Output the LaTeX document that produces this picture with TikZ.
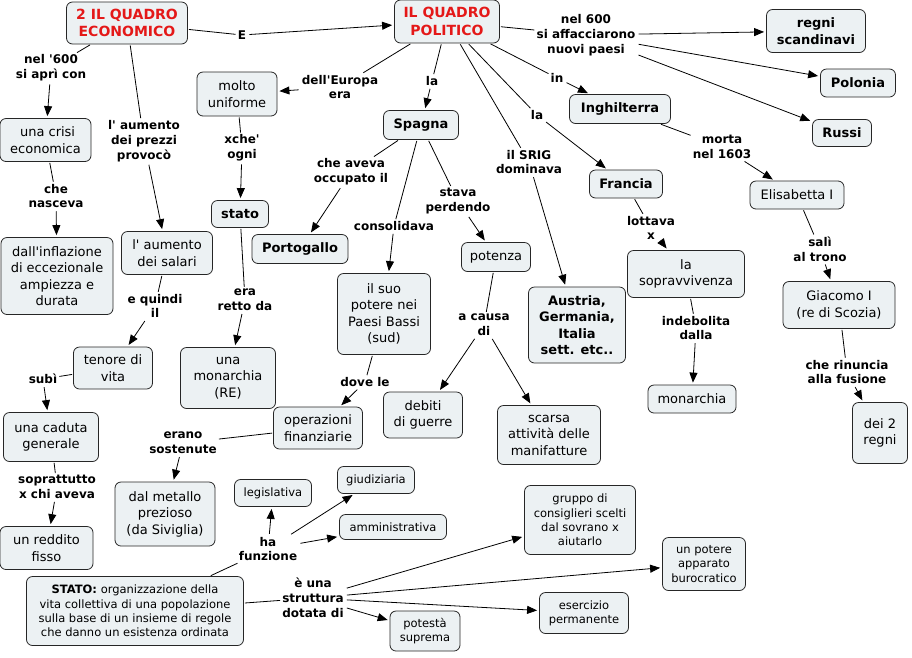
\documentclass[tikz,border=0pt]{standalone}
\usepackage{fontspec}
\setmainfont{DejaVu Sans}[Ligatures=TeXOff]
\usetikzlibrary{arrows.meta}

\definecolor{boxfill}{RGB}{236,241,243}
\definecolor{titlered}{RGB}{228,24,24}

\tikzset{
    concept/.style={draw=black!85, fill=boxfill, rounded corners=6pt, align=center,
        inner sep=2pt, line width=0.8pt, font=\fontsize{13}{16.5}\selectfont},
    boldconcept/.style={concept, font=\fontsize{13}{16.5}\selectfont\bfseries},
    titleconcept/.style={concept, text=titlered, font=\fontsize{14}{17.5}\selectfont\bfseries},
    smallconcept/.style={concept, font=\fontsize{11.5}{14.3}\selectfont},
    sz/.style 2 args={minimum width=#1pt, minimum height=#2pt},
    link/.style={align=center, inner sep=2pt, font=\fontsize{12}{14.8}\selectfont\bfseries},
    conn/.style={line width=0.8pt, shorten <=1pt},
    arr/.style={conn, -{Triangle[length=10pt,width=8pt]}, shorten >=2pt},
}

\begin{document}
\begin{tikzpicture}[x=1pt, y=-1pt]
    \useasboundingbox (0,0) rectangle (912,657);

    % The two main topics.
    \node[titleconcept, sz={121}{42}] (econ) at (127,23) {2 IL QUADRO\\ECONOMICO};
    \node[titleconcept, sz={105}{43}] (pol)  at (447,21.5) {IL QUADRO\\POLITICO};

    % Concepts on the political side.
    \node[boldconcept, sz={99}{43}]  (scand)   at (816,31)  {regni\\scandinavi};
    \node[boldconcept, sz={75}{28}]  (polonia) at (858,83)  {Polonia};
    \node[boldconcept, sz={59}{27}]  (russi)   at (842,133) {Russi};
    \node[boldconcept, sz={101}{29}] (inghil)  at (620,109) {Inghilterra};
    \node[concept,     sz={94}{28}]  (elisab)  at (797,195) {Elisabetta I};
    \node[boldconcept, sz={73}{28}]  (francia) at (626,184) {Francia};
    \node[concept,     sz={80}{44}]  (unif)    at (237,94)  {molto\\uniforme};
    \node[boldconcept, sz={75}{29}]  (spagna)  at (421,125) {Spagna};
    \node[boldconcept, sz={57}{27}]  (stato)   at (240,214) {stato};
    \node[boldconcept, sz={96}{29}]  (portog)  at (300,249) {Portogallo};
    \node[concept,     sz={69}{29}]  (potenza) at (496,257) {potenza};
    \node[boldconcept, sz={97}{76}]  (austria) at (577,325) {Austria,\\Germania,\\Italia\\sett. etc..};
    \node[concept,     sz={117}{47}] (sopr)    at (686,274) {la\\sopravvivenza};
    \node[concept,     sz={112}{47}] (giacomo) at (839,305) {Giacomo I\\(re di Scozia)};
    \node[concept,     sz={93}{81}]  (potere)  at (384,314) {il suo\\potere nei\\Paesi Bassi\\(sud)};
    \node[concept,     sz={95}{61}]  (monre)   at (228,378) {una\\monarchia\\(RE)};
    \node[concept,     sz={89}{42}]  (operaz)  at (318,428) {operazioni\\finanziarie};
    \node[concept,     sz={79}{46}]  (debiti)  at (423,415) {debiti\\di guerre};
    \node[concept,     sz={103}{59}] (scarsa)  at (549,435) {scarsa\\attività delle\\manifatture};
    \node[concept,     sz={88}{28}]  (monarch) at (692,399) {monarchia};
    \node[concept,     sz={55}{61}]  (regni)   at (880,433) {dei 2\\regni};
    \node[concept,     sz={100}{64}] (metallo) at (165,514) {dal metallo\\prezioso\\(da Siviglia)};

    % Concepts on the economic side.
    \node[concept, sz={91}{43}]  (crisi)   at (45.5,140) {\ una crisi\\economica};
    \node[concept, sz={112}{77}] (inflaz)  at (57,276)   {dall'inflazione\\di eccezionale\\ampiezza e\\durata};
    \node[concept, sz={91}{43}]  (salari)  at (167,253)  {l' aumento\\dei salari};
    \node[concept, sz={79}{42}]  (tenore)  at (113,368)  {tenore di\\vita};
    \node[concept, sz={95}{49}]  (caduta)  at (51,437)   {una caduta\\generale};
    \node[concept, sz={93}{43}]  (reddito) at (46.5,548) {un reddito\\fisso};

    % The definition of the state and what it has.
    \node[smallconcept, sz={217}{69}] (statodef) at (135,611)
        {\textbf{STATO:} organizzazione della\\vita collettiva di una popolazione\\sulla base di un insieme di regole\\che danno un esistenza ordinata};
    \node[smallconcept, sz={77}{27}]  (legisl)   at (273,493) {legislativa};
    \node[smallconcept, sz={77}{27}]  (giudiz)   at (376,480) {giudiziaria};
    \node[smallconcept, sz={107}{25}] (ammin)    at (393,527) {amministrativa};
    \node[smallconcept, sz={111}{69}] (gruppo)   at (580,520) {gruppo di\\consiglieri scelti\\dal sovrano x\\aiutarlo};
    \node[smallconcept, sz={83}{53}]  (appar)    at (704,564) {un potere\\apparato\\burocratico};
    \node[smallconcept, sz={89}{41}]  (eserc)    at (584,613) {esercizio\\permanente};
    \node[smallconcept, sz={70}{40}]  (potesta)  at (425,631) {potestà\\suprema};

    % Linking phrases.
    \node[link] (lE)       at (242,35)  {E};
    \node[link] (lnel)     at (51,68)   {nel '600\\si aprì con};
    \node[link] (lprezzi)  at (144,141) {l' aumento\\dei prezzi\\provocò};
    \node[link] (leuropa)  at (340,87)  {dell'Europa\\era};
    \node[link] (lla)      at (432,81)  {la};
    \node[link] (lnuovi)   at (586,35)  {nel 600\\si affacciarono\\nuovi paesi};
    \node[link] (lin)      at (557,78)  {in};
    \node[link] (llaf)     at (537,115) {la};
    \node[link] (lsrig)    at (529,162) {il SRIG\\dominava};
    \node[link] (lmorta)   at (722,147) {morta\\nel 1603};
    \node[link] (lxche)    at (242,148) {xche'\\ogni};
    \node[link] (lnasc)    at (56,196)  {che\\nasceva};
    \node[link] (loccup)   at (351,172) {che aveva\\occupato il};
    \node[link] (lcons)    at (394,226) {consolidava};
    \node[link] (lperd)    at (458,201) {stava\\perdendo};
    \node[link] (llott)    at (651,228) {lottava\\x};
    \node[link] (lsali)    at (820,249) {salì\\al trono};
    \node[link] (lretto)   at (245,300) {era\\retto da};
    \node[link] (lquindi)  at (155,306) {e quindi\\il};
    \node[link] (lcausa)   at (484,325) {a causa\\di};
    \node[link] (lindeb)   at (696,328) {indebolita\\dalla};
    \node[link] (lrinun)   at (847,372) {che rinuncia\\alla fusione};
    \node[link] (lsubi)    at (43,379)  {subì};
    \node[link] (ldove)    at (365,382) {dove le};
    \node[link] (lsost)    at (183,443) {erano\\sostenute};
    \node[link] (lsoprat)  at (57,487)  {soprattutto\\x chi aveva};
    \node[link] (lfunz)    at (268,549) {ha\\funzione};
    \node[link] (lstrutt)  at (313,598) {è una\\struttura\\dotata di};

    % Connections from the main topics.
    \draw[conn] (econ) -- (lE);      \draw[arr] (lE) -- (pol);
    \draw[conn] (econ) -- (lnel);    \draw[arr] (lnel) -- (crisi);
    \draw[conn] (econ) -- (lprezzi); \draw[arr] (lprezzi) -- (salari);
    \draw[conn] (pol) -- (leuropa);  \draw[arr] (leuropa) -- (unif);
    \draw[conn] (pol) -- (lla);      \draw[arr] (lla) -- (spagna);
    \draw[conn] (pol) -- (lnuovi);
    \draw[arr] (lnuovi) -- (scand);
    \draw[arr] (lnuovi) -- (polonia);
    \draw[arr] (lnuovi) -- (russi);
    \draw[conn] (pol) -- (lin);      \draw[arr] (lin) -- (inghil);
    \draw[conn] (pol) -- (llaf);     \draw[arr] (llaf) -- (francia);
    \draw[conn] (pol) -- (lsrig);    \draw[arr] (lsrig) -- (austria);

    % The countries.
    \draw[conn] (inghil) -- (lmorta);  \draw[arr] (lmorta) -- (elisab);
    \draw[conn] (elisab) -- (lsali);   \draw[arr] (lsali) -- (giacomo);
    \draw[conn] (giacomo) -- (lrinun); \draw[arr] (lrinun) -- (regni);
    \draw[conn] (francia) -- (llott);  \draw[arr] (llott) -- (sopr);
    \draw[conn] (sopr) -- (lindeb);    \draw[arr] (lindeb) -- (monarch);
    \draw[conn] (spagna) -- (loccup);  \draw[arr] (loccup) -- (portog);
    \draw[conn] (spagna) -- (lcons);   \draw[arr] (lcons) -- (potere);
    \draw[conn] (spagna) -- (lperd);   \draw[arr] (lperd) -- (potenza);
    \draw[conn] (potenza) -- (lcausa);
    \draw[arr] (lcausa) -- (debiti);
    \draw[arr] (lcausa) -- (scarsa);
    \draw[conn] (potere) -- (ldove);   \draw[arr] (ldove) -- (operaz);
    \draw[conn] (operaz) -- (lsost);   \draw[arr] (lsost) -- (metallo);
    \draw[conn] (unif) -- (lxche);     \draw[arr] (lxche) -- (stato);
    \draw[conn] (stato) -- (lretto);   \draw[arr] (lretto) -- (monre);

    % The economic chain.
    \draw[conn] (crisi) -- (lnasc);    \draw[arr] (lnasc) -- (inflaz);
    \draw[conn] (salari) -- (lquindi); \draw[arr] (lquindi) -- (tenore);
    \draw[conn] (tenore) -- (lsubi);   \draw[arr] (lsubi) -- (caduta);
    \draw[conn] (caduta) -- (lsoprat); \draw[arr] (lsoprat) -- (reddito);

    % What the state has.
    \draw[conn] (statodef) -- (lfunz);
    \draw[arr] (lfunz) -- (legisl);
    \draw[arr] (lfunz) -- (giudiz);
    \draw[arr] (lfunz) -- (ammin);
    \draw[conn] (statodef) -- (lstrutt);
    \draw[arr] (lstrutt) -- (gruppo);
    \draw[arr] (lstrutt) -- (appar);
    \draw[arr] (lstrutt) -- (eserc);
    \draw[arr] (lstrutt) -- (potesta);
\end{tikzpicture}
\end{document}
